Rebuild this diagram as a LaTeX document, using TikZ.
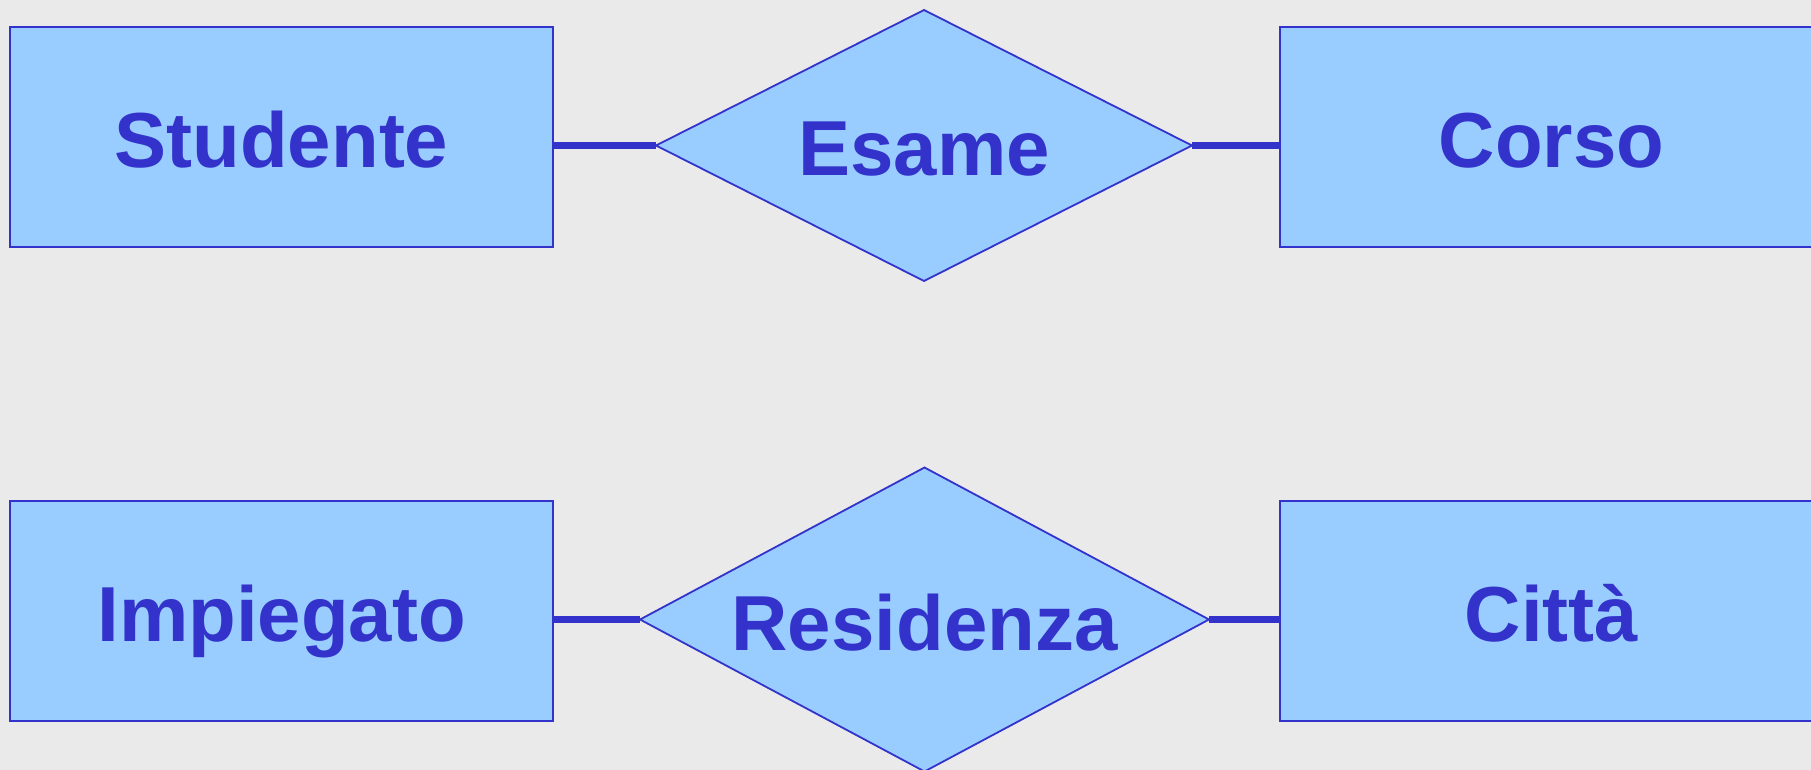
\documentclass[tikz,border=0pt]{standalone}
\usepackage{fontspec}
\setmainfont{Liberation Sans}
\usetikzlibrary{shapes.geometric}
\definecolor{bgc}{RGB}{234,234,234}
\definecolor{fillc}{RGB}{153,204,255}
\definecolor{linec}{RGB}{51,51,204}
\tikzset{
  lbl/.style={text=linec, font=\fontsize{78}{90}\selectfont\bfseries, text height=68pt, text depth=7pt},
  entity/.style={lbl, rectangle, draw=linec, fill=fillc, line width=2pt, minimum width=543pt, minimum height=220pt, inner sep=0pt, outer sep=0pt},
  relation/.style={lbl, diamond, draw=linec, fill=fillc, line width=1.8pt, inner sep=0pt, outer sep=0pt, aspect=2},
  link/.style={draw=linec, line width=6.5pt}
}
\begin{document}
\begin{tikzpicture}[x=1pt,y=-1pt]
\useasboundingbox (0,0) rectangle (1811,770);
\fill[bgc] (0,0) rectangle (1811,770);
\node[entity] (studente) at (281.5,137) {Studente};
\node[entity] (corso) at (1551.5,137) {Corso};
\node[entity] (impiegato) at (281.5,611) {Impiegato};
\node[entity] (citta) at (1551.5,611) {Città};
\node[relation, minimum width=536pt, minimum height=271pt] (esame) at (924,145.5) {Esame};
\node[relation, minimum width=569pt, minimum height=304pt] (residenza) at (924.5,619.5) {Residenza};
\draw[link] (esame.west) -- (esame.west -| studente.east);
\draw[link] (esame.east) -- (esame.east -| corso.west);
\draw[link] (residenza.west) -- (residenza.west -| impiegato.east);
\draw[link] (residenza.east) -- (residenza.east -| citta.west);
\end{tikzpicture}
\end{document}
